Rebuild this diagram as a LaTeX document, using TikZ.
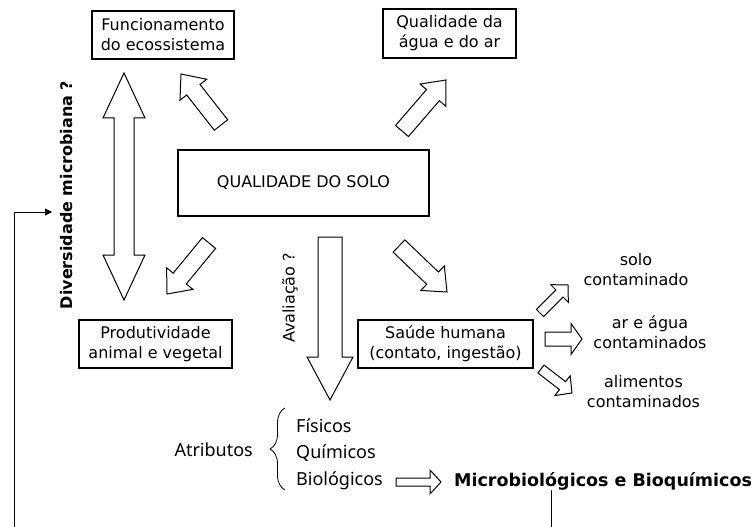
\documentclass[tikz,border=0pt]{standalone}
\usepackage{fontspec}
\setmainfont{DejaVu Sans}
\newfontfamily\attrfont{Noto Sans}
\usetikzlibrary{arrows.meta,positioning,calc,decorations.pathreplacing}
\tikzset{
  box/.style={draw,line width=1.3pt,align=center,inner sep=0pt,
              font=\fontsize{16}{20}\selectfont},
  note/.style={align=center,inner sep=0pt,font=\fontsize{16}{20}\selectfont},
  attr/.style={inner sep=0pt,font=\attrfont\fontsize{18}{20}\selectfont},
  blockline/.style={draw,line width=1pt,line join=miter,fill=white},
  thinflow/.style={-{Triangle[length=7pt,width=7pt]},line width=0.9pt}
}
% tail, tip, half shaft, half head, head length
\newcommand{\blockarrow}[5]{%
  \coordinate (ba-h) at ($(#2)!#5!(#1)$);
  \draw[blockline] ($(#1)!#3!90:(#2)$) -- ($(ba-h)!#3!90:(#2)$)
    -- ($(ba-h)!#4!90:(#2)$) -- (#2) -- ($(ba-h)!#4!-90:(#2)$)
    -- ($(ba-h)!#3!-90:(#2)$) -- ($(#1)!#3!-90:(#2)$) -- cycle;
}

\begin{document}
\begin{tikzpicture}[x=1pt,y=-1pt]
  \useasboundingbox (0,0) rectangle (756,527);
  % boxes
  \node[box,minimum width=142pt,minimum height=48pt] (func) at (163,35) {Funcionamento\\do ecossistema};
  \node[box,minimum width=133pt,minimum height=49pt] (agua) at (449.5,33.5) {Qualidade da\\água e do ar};
  \node[box,minimum width=251pt,minimum height=66pt,font=\fontsize{16}{19}\selectfont] (solo) at (303.5,183) {QUALIDADE DO SOLO};
  \node[box,minimum width=153pt,minimum height=48pt] (prod) at (155.5,344) {Produtividade\\animal e vegetal};
  \node[box,minimum width=175pt,minimum height=48pt] (saude) at (445.5,344) {Saúde humana\\(contato, ingestão)};
  % side texts
  \node[rotate=90,inner sep=0pt,font=\bfseries\fontsize{16}{16}\selectfont] (diver) at (67,195) {Diversidade microbiana ?};
  \node[rotate=90,inner sep=0pt,font=\fontsize{16}{16}\selectfont] (aval) at (290,298) {Avaliação ?};
  \node[note] (solocont) at (636,270) {solo\\contaminado};
  \node[note] (arcont) at (650,332) {ar e água\\contaminados};
  \node[note] (alicont) at (643.5,392) {alimentos\\contaminados};
  % attributes
  \node[attr,anchor=east] (atrib) at (253,450) {Atributos};
  \node[attr,anchor=west] (fis) at (296,426) {Físicos};
  \node[attr,anchor=west] (qui) at (296,453) {Químicos};
  \node[attr,anchor=west] (bio) at (296,481) {Biológicos};
  \node[anchor=west,inner sep=0pt,font=\bfseries\fontsize{17.5}{20}\selectfont] (micro) at (454,481) {Microbiológicos e Bioquímicos};
  \draw[decorate,decoration={brace,amplitude=15pt},line width=0.8pt] (285,490) -- (285,408);
  % block arrows
  \draw[blockline] (114,118) -- (103,118) -- (124,73) -- (145,118) -- (134,118)
    -- (134,255) -- (145,255) -- (124,300) -- (103,255) -- (114,255) -- cycle;
  \blockarrow{221,125}{181,74}{8.5pt}{17pt}{20pt}
  \blockarrow{402,131}{446,80}{8.5pt}{17pt}{20pt}
  \blockarrow{209,243}{167,294}{8.5pt}{17pt}{20pt}
  \blockarrow{399,246}{447,292}{8.5pt}{17pt}{20pt}
  \blockarrow{330,237}{330,400}{12pt}{23pt}{43pt}
  \blockarrow{540,313}{568,285}{5pt}{12.5pt}{12pt}
  \blockarrow{545,339}{582,339}{7pt}{15.5pt}{11pt}
  \blockarrow{541,369}{572,393}{5pt}{12.5pt}{12pt}
  \blockarrow{396,482}{441,482}{4pt}{12pt}{11pt}
  % connectors
  \coordinate (loopfoot) at (14,530);
  \coordinate (diverin) at (52,212);
  \draw[thinflow] (loopfoot) |- (diverin);
  \coordinate (microfoot) at (551,530);
  \draw[line width=0.9pt] (microfoot |- micro.south) -- (microfoot);
\end{tikzpicture}
\end{document}
